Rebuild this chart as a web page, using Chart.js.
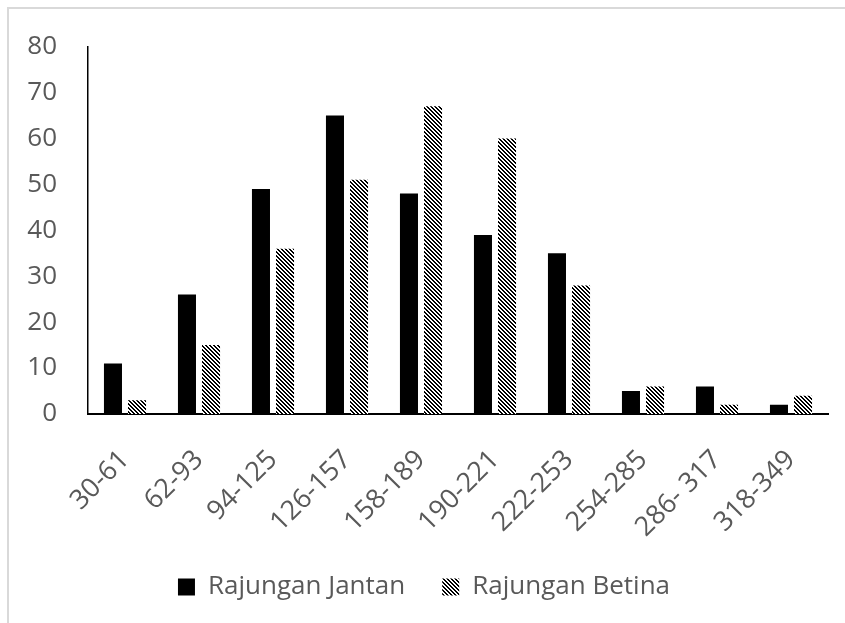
<!DOCTYPE html>
<html>
<head>
<meta charset="utf-8">
<script src="https://cdn.jsdelivr.net/npm/chart.js@4.4.1/dist/chart.umd.min.js"></script>
<style>
  html, body { margin: 0; padding: 0; background: #ffffff; }
  #wrap { position: relative; width: 845px; height: 623px; overflow: hidden; }
  #frame { position: absolute; left: 7px; top: 7px; right: -4px; bottom: -4px;
           border-left: 2px solid #d9d9d9; border-top: 2px solid #d9d9d9; }
  canvas { position: absolute; left: 0; top: 0; }
</style>
</head>
<body>
<div id="wrap">
  <div id="frame"></div>
  <canvas id="chart" width="845" height="623"></canvas>
</div>
<script>
// Carapace width classes (mm) and counts per sex
const categories = ['30-61', '62-93', '94-125', '126-157', '158-189', '190-221', '222-253', '254-285', '286- 317', '318-349'];
const jantanCounts = [11, 26, 49, 65, 48, 39, 35, 5, 6, 2];
const betinaCounts = [3, 15, 36, 51, 67, 60, 28, 6, 2, 4];
const yTicks = [0, 10, 20, 30, 40, 50, 60, 70, 80];

// Wide downward-diagonal hatch used for the female series
function diagonalHatch() {
  const size = 4;
  const c = document.createElement('canvas');
  c.width = size; c.height = size;
  const g = c.getContext('2d');
  g.fillStyle = '#ffffff';
  g.fillRect(0, 0, size, size);
  g.fillStyle = '#000000';
  for (let y = 0; y < size; y++) {
    for (let x = 0; x < size; x++) {
      if (((x - y) % size + size) % size < 2) g.fillRect(x, y, 1, 1);
    }
  }
  return g.createPattern(c, 'repeat');
}

const textColor = '#595959';
const fontFamily = '"Open Sans", "Liberation Sans", sans-serif';
const fontSize = 26;

new Chart(document.getElementById('chart'), {
  type: 'bar',
  data: {
    labels: categories,
    datasets: [
      { label: 'Rajungan Jantan', data: jantanCounts, backgroundColor: '#000000', borderWidth: 0,
        categoryPercentage: 0.65, barPercentage: 0.75 },
      { label: 'Rajungan Betina', data: betinaCounts, backgroundColor: diagonalHatch(), borderWidth: 0,
        categoryPercentage: 0.65, barPercentage: 0.75 }
    ]
  },
  options: {
    responsive: false,
    animation: false,
    devicePixelRatio: 1,
    layout: { padding: { left: 20, right: 17, top: 42, bottom: 13 } },
    plugins: {
      tooltip: { enabled: false },
      legend: {
        position: 'bottom',
        labels: {
          color: textColor,
          font: { family: fontFamily, size: fontSize },
          boxWidth: 17,
          boxHeight: 17,
          padding: 37
        }
      }
    },
    scales: {
      x: {
        grid: { display: false, drawTicks: false },
        border: { display: true, color: '#000000', width: 2 },
        ticks: {
          color: textColor,
          font: { family: fontFamily, size: 27 },
          maxRotation: 45,
          minRotation: 45,
          padding: 30,
          autoSkip: false
        },
        afterFit: (scale) => { scale.height = 123; }
      },
      y: {
        min: 0,
        max: 80,
        grid: { display: false, drawTicks: false },
        border: { display: true, color: '#000000', width: 1.5 },
        afterBuildTicks: (scale) => { scale.ticks = yTicks.map(v => ({ value: v })); },
        ticks: {
          color: textColor,
          font: { family: fontFamily, size: fontSize },
          padding: 31
        },
        afterFit: (scale) => { scale.width = 68; }
      }
    }
  }
});
</script>
</body>
</html>
